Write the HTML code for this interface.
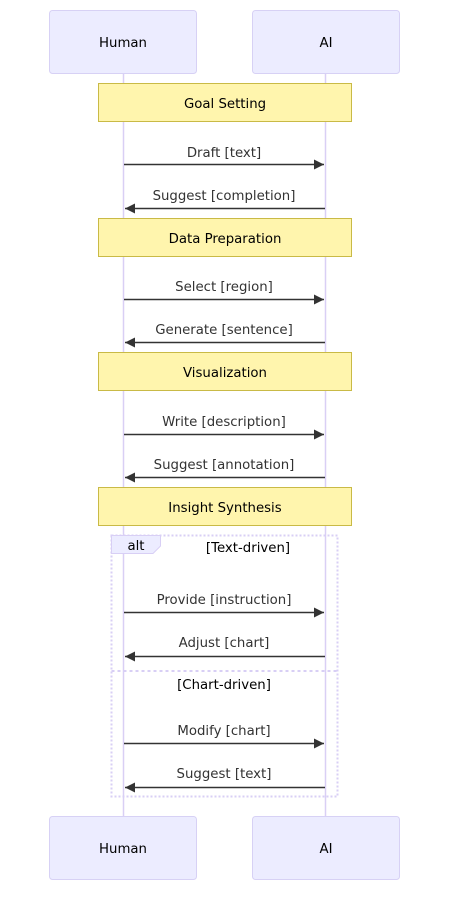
<!DOCTYPE html>
<html><head><meta charset="utf-8"><style>
html,body{margin:0;padding:0;background:#fff;}
svg{display:block;}
text{font-family:"DejaVu Sans","Liberation Sans",sans-serif;font-size:13.3px;fill:#333;}
.a{fill:#000;}
</style></head><body>
<svg width="457" height="907" viewBox="0 0 457 907" xmlns="http://www.w3.org/2000/svg">
<defs>
<marker id="ar" markerWidth="12" markerHeight="12" refX="10" refY="5" orient="auto" markerUnits="userSpaceOnUse">
<path d="M0,0 L10,5 L0,10 z" fill="#333"/></marker>
</defs>
<line x1="123.5" y1="73" x2="123.5" y2="816" stroke="#d9cff5" stroke-width="1.5"/>
<line x1="325.5" y1="73" x2="325.5" y2="816" stroke="#d9cff5" stroke-width="1.5"/>
<rect x="49.5" y="10.5" width="147" height="63" rx="3" fill="#ececff" stroke="#d7d1f5"/>
<rect x="252.5" y="10.5" width="147" height="63" rx="3" fill="#ececff" stroke="#d7d1f5"/>
<text class="a" x="123" y="47" text-anchor="middle">Human</text>
<text class="a" x="326" y="47" text-anchor="middle">AI</text>
<rect x="49.5" y="816.5" width="147" height="63" rx="3" fill="#ececff" stroke="#d7d1f5"/>
<rect x="252.5" y="816.5" width="147" height="63" rx="3" fill="#ececff" stroke="#d7d1f5"/>
<text class="a" x="123" y="853" text-anchor="middle">Human</text>
<text class="a" x="326" y="853" text-anchor="middle">AI</text>

<g fill="#fff5ad" stroke="#c9ba46">
<rect x="98.5" y="83.5" width="253" height="38"/>
<rect x="98.5" y="218.5" width="253" height="38"/>
<rect x="98.5" y="352.5" width="253" height="38"/>
<rect x="98.5" y="487.5" width="253" height="38"/>
</g>
<text class="a" x="225" y="108" text-anchor="middle">Goal Setting</text>
<text class="a" x="225" y="243" text-anchor="middle">Data Preparation</text>
<text class="a" x="225" y="377" text-anchor="middle">Visualization</text>
<text class="a" x="225" y="512" text-anchor="middle">Insight Synthesis</text>

<g stroke="#333" stroke-width="1.5" marker-end="url(#ar)">
<line x1="124" y1="164.5" x2="324" y2="164.5"/>
<line x1="325" y1="208.5" x2="125" y2="208.5"/>
<line x1="124" y1="299.5" x2="324" y2="299.5"/>
<line x1="325" y1="342.5" x2="125" y2="342.5"/>
<line x1="124" y1="434.5" x2="324" y2="434.5"/>
<line x1="325" y1="477.5" x2="125" y2="477.5"/>
<line x1="124" y1="612.5" x2="324" y2="612.5"/>
<line x1="325" y1="656.5" x2="125" y2="656.5"/>
<line x1="124" y1="743.5" x2="324" y2="743.5"/>
<line x1="325" y1="787.5" x2="125" y2="787.5"/>
</g>
<g text-anchor="middle">
<text x="224" y="157">Draft [text]</text>
<text x="224" y="200">Suggest [completion]</text>
<text x="224" y="291">Select [region]</text>
<text x="224" y="334">Generate [sentence]</text>
<text x="224" y="426">Write [description]</text>
<text x="224" y="469">Suggest [annotation]</text>
<text x="224" y="604">Provide [instruction]</text>
<text x="224" y="647">Adjust [chart]</text>
<text x="224" y="735">Modify [chart]</text>
<text x="224" y="778">Suggest [text]</text>
</g>

<rect x="111.5" y="535.5" width="226" height="261" fill="none" stroke="#d8cff5" stroke-width="2" stroke-dasharray="2,2"/>
<line x1="111.5" y1="671" x2="337.5" y2="671" stroke="#d8cff5" stroke-width="2" stroke-dasharray="3,3"/>
<path d="M111.5,535.5 H160.5 V546 L153,553.5 H111.5 z" fill="#ececff" stroke="#d8cff5"/>
<text class="a" x="136" y="550" text-anchor="middle">alt</text>
<text class="a" x="248" y="552" text-anchor="middle">[Text-driven]</text>
<text class="a" x="224" y="689" text-anchor="middle">[Chart-driven]</text>
</svg>
</body></html>
